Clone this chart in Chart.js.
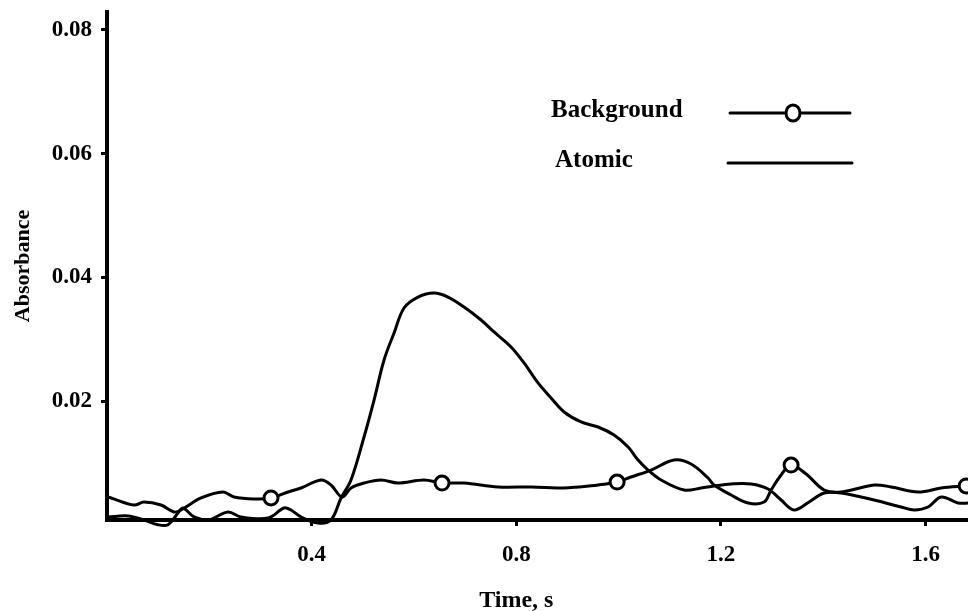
<!DOCTYPE html>
<html>
<head>
<meta charset="utf-8">
<script src="https://cdn.jsdelivr.net/npm/chart.js@4.4.1/dist/chart.umd.min.js"></script>
<style>
  html, body { margin: 0; padding: 0; background: #fff; }
  #wrap { width: 968px; height: 611px; position: relative; }
</style>
</head>
<body>
<div id="wrap"><canvas id="c"></canvas></div>
<script>
// Background absorbance trace (time in s)
const bgTime = [0.000, 0.0078, 0.0528, 0.0723, 0.1056, 0.1310, 0.1447, 0.1838, 0.2268, 0.2483, 0.2874, 0.3206,
  0.3539, 0.3793, 0.4184, 0.4379, 0.4594, 0.4770, 0.5024, 0.5357, 0.5689, 0.6197, 0.6549, 0.6979, 0.7644,
  0.8289, 0.8935, 0.9208, 0.9599, 0.9971, 1.0244, 1.0635, 1.1085, 1.1417, 1.1750, 1.1867, 1.2199, 1.2532,
  1.2845, 1.2981, 1.3177, 1.3372, 1.3666, 1.4018, 1.4350, 1.4995, 1.5328, 1.5855, 1.6305, 1.6794];
const bgAbs = [0.00448, 0.00432, 0.00318, 0.00367, 0.00318, 0.00205, 0.00237, 0.00432, 0.00529, 0.00448, 0.00416, 0.00432,
  0.00529, 0.00593, 0.00723, 0.00642, 0.00448, 0.00593, 0.00674, 0.00723, 0.00674, 0.00723, 0.00674, 0.00674, 0.00610,
  0.00610, 0.00593, 0.00610, 0.00642, 0.00690, 0.00771, 0.00884, 0.01046, 0.00981, 0.00755, 0.00642, 0.00480, 0.00351,
  0.00367, 0.00561, 0.00804, 0.00965, 0.00820, 0.00561, 0.00529, 0.00642, 0.00610, 0.00529, 0.00593, 0.00626];
// Times at which the Background trace carries an open-circle marker
const bgMarkerTime = [0.3206, 0.6549, 0.9971, 1.3372, 1.6794];

// Atomic absorbance trace (time in s)
const atTime = [0.002, 0.0411, 0.0723, 0.0997, 0.1193, 0.1388, 0.1486, 0.1701, 0.1975, 0.2366, 0.2620, 0.3148,
  0.3460, 0.3597, 0.3793, 0.4125, 0.4379, 0.4575, 0.4770, 0.5024, 0.5220, 0.5415, 0.5611, 0.5806, 0.6080,
  0.6393, 0.6667, 0.6979, 0.7312, 0.7566, 0.7898, 0.8152, 0.8426, 0.8680, 0.8935, 0.9267, 0.9599, 0.9912,
  1.0186, 1.0381, 1.0577, 1.0831, 1.1281, 1.1613, 1.1867, 1.2199, 1.2590, 1.2923, 1.3177, 1.3431, 1.3724,
  1.4018, 1.4350, 1.4995, 1.5523, 1.5777, 1.6051, 1.6305, 1.6637, 1.6852];
const atAbs = [0.00125, 0.00141, 0.00076, 0.0000, 0.0000, 0.00189, 0.00270, 0.00125, 0.00076, 0.00205, 0.00125, 0.00108,
  0.00270, 0.00237, 0.00125, 0.00027, 0.00076, 0.00432, 0.00723, 0.01418, 0.02016, 0.02663, 0.03099, 0.03504, 0.03681,
  0.03746, 0.03681, 0.03520, 0.03310, 0.03116, 0.02874, 0.02615, 0.02292, 0.02049, 0.01822, 0.01661, 0.01580, 0.01450,
  0.01256, 0.01046, 0.00884, 0.00723, 0.00561, 0.00593, 0.00626, 0.00658, 0.00658, 0.00577, 0.00399, 0.00238, 0.00367,
  0.00513, 0.00513, 0.00399, 0.00286, 0.00238, 0.00286, 0.00448, 0.00351, 0.00351];

const xTicks = [0.4, 0.8, 1.2, 1.6];
const yTicks = [0.02, 0.04, 0.06, 0.08];
const seriesNames = ['Background', 'Atomic'];
const xTitle = 'Time, s';
const yTitle = 'Absorbance';

const FONT = 'Liberation Serif, Times New Roman, serif';
const toPoints = (xs, ys) => xs.map((x, i) => ({ x: x, y: ys[i] }));

// Legend block drawn in the upper right of the plot
const legendPlugin = {
  id: 'sampleLegend',
  afterDatasetsDraw(chart) {
    const ctx = chart.ctx;
    const rows = [
      { ds: chart.data.datasets[0], textX: 551, textY: 117, x0: 730, x1: 850, y: 113, marker: 793 },
      { ds: chart.data.datasets[1], textX: 555, textY: 167, x0: 728, x1: 852, y: 163, marker: null }
    ];
    ctx.save();
    ctx.font = 'bold 25px ' + FONT;
    ctx.fillStyle = '#000';
    ctx.textBaseline = 'alphabetic';
    ctx.textAlign = 'left';
    rows.forEach(r => {
      ctx.fillText(r.ds.label, r.textX, r.textY);
      ctx.strokeStyle = r.ds.borderColor;
      ctx.lineWidth = r.ds.borderWidth;
      ctx.lineCap = 'round';
      ctx.beginPath();
      ctx.moveTo(r.x0, r.y);
      ctx.lineTo(r.x1, r.y);
      ctx.stroke();
      if (r.marker !== null) {
        ctx.beginPath();
        ctx.ellipse(r.marker, r.y, 7, 8, 0, 0, Math.PI * 2);
        ctx.fillStyle = '#fff';
        ctx.fill();
        ctx.lineWidth = 3;
        ctx.stroke();
        ctx.fillStyle = '#000';
      }
    });
    ctx.restore();
  }
};

// Horizontal axis title, centred beneath the 0.8 s tick
const xTitlePlugin = {
  id: 'xTitle',
  afterDraw(chart) {
    const ctx = chart.ctx;
    const xs = chart.scales.x;
    ctx.save();
    ctx.font = 'bold 24px ' + FONT;
    ctx.fillStyle = '#000';
    ctx.textAlign = 'center';
    ctx.textBaseline = 'middle';
    ctx.fillText(xTitle, xs.getPixelForValue(0.8), 601);
    ctx.restore();
  }
};

new Chart(document.getElementById('c'), {
  type: 'line',
  data: {
    datasets: [
      {
        label: seriesNames[0],
        data: toPoints(bgTime, bgAbs),
        borderColor: '#000',
        borderWidth: 3,
        tension: 0.35,
        fill: false,
        clip: false,
        pointRadius: ctx => bgMarkerTime.includes(bgTime[ctx.dataIndex]) ? 7 : 0,
        pointHoverRadius: 0,
        pointBorderWidth: 3,
        pointBorderColor: '#000',
        pointBackgroundColor: '#fff',
        borderJoinStyle: 'round'
      },
      {
        label: seriesNames[1],
        data: toPoints(atTime, atAbs),
        borderColor: '#000',
        borderWidth: 3,
        tension: 0.35,
        fill: false,
        clip: false,
        pointRadius: 0,
        pointHoverRadius: 0,
        borderJoinStyle: 'round'
      }
    ]
  },
  options: {
    responsive: true,
    maintainAspectRatio: false,
    animation: false,
    devicePixelRatio: 1,
    layout: { autoPadding: false, padding: { top: 12, left: 0, right: 0, bottom: 0 } },
    plugins: {
      legend: { display: false },
      tooltip: { enabled: false }
    },
    scales: {
      x: {
        type: 'linear',
        min: 0,
        max: 1.683,
        afterFit: s => { s.height = 91; s.paddingLeft = 0; s.paddingRight = 0; },
        afterBuildTicks: s => { s.ticks = xTicks.map(v => ({ value: v })); },
        ticks: {
          color: '#000',
          padding: 15,
          font: { family: FONT, size: 23, weight: 'bold' },
          callback: v => v.toFixed(1),
          maxRotation: 0,
          autoSkip: false
        },
        grid: { display: true, drawOnChartArea: false, drawTicks: true, tickLength: 6, lineWidth: 3, color: '#000' },
        border: { display: true, color: '#000', width: 4 }
      },
      y: {
        type: 'linear',
        min: 0.00076,
        max: 0.0829,
        afterFit: s => { s.width = 107; s.paddingTop = 0; s.paddingBottom = 0; },
        afterBuildTicks: s => { s.ticks = yTicks.map(v => ({ value: v })); },
        ticks: {
          color: '#000',
          padding: 9,
          font: { family: FONT, size: 23, weight: 'bold' },
          callback: v => v.toFixed(2)
        },
        grid: { display: true, drawOnChartArea: false, drawTicks: true, tickLength: 6, lineWidth: 3, color: '#000' },
        border: { display: true, color: '#000', width: 4 },
        title: {
          display: true,
          text: yTitle,
          color: '#000',
          padding: { top: 10, bottom: 0 },
          font: { family: FONT, size: 22, weight: 'bold' }
        }
      }
    }
  },
  plugins: [legendPlugin, xTitlePlugin]
});
</script>
</body>
</html>
